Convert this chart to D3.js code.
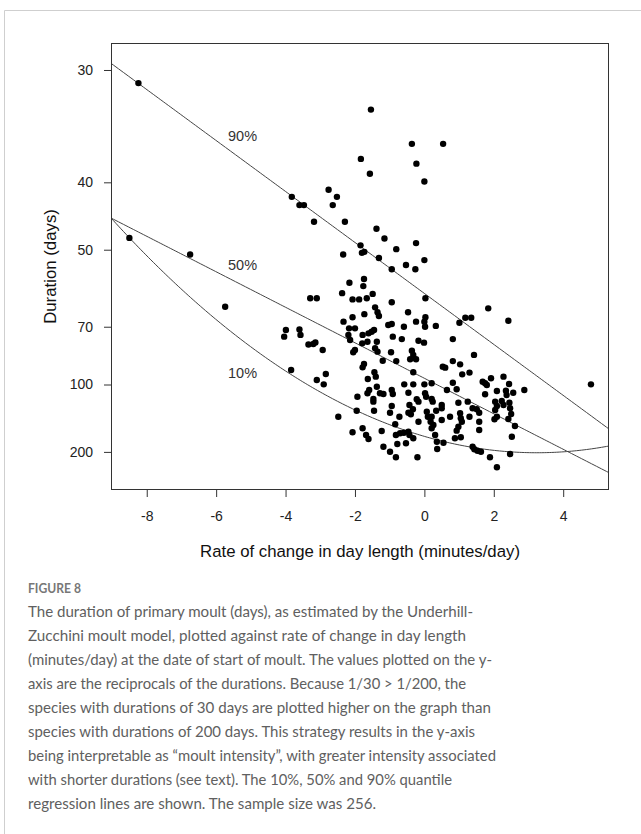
<!DOCTYPE html>
<html>
<head>
<meta charset="utf-8">
<script src="https://cdn.jsdelivr.net/npm/d3@7"></script>
<style>
  body { margin: 0; background: #fff; }
  svg { display: block; }
</style>
</head>
<body>
<svg id="fig" width="641" height="834"></svg>
<script>
// Rate of change in day length at start of moult (minutes/day), one per species
const rate = [
  -8.24, -8.50, -6.75, -5.74, -3.84, -3.10, -3.99, -4.04, -3.60, -3.57,
  -3.34, -3.20, -3.14, -3.82, -3.60, -3.47, -3.18, -2.76, -2.64, -2.52,
  -2.29, -3.29, -3.10, -1.54, -0.36, 0.54, -1.83, -0.23, -1.57, 0.00,
  -1.38, -1.15, -1.84, -2.34, -1.80, -1.73, -0.81, -0.24, -1.31, -0.53,
  -0.26, 0.00, -0.94, -1.74, -2.16, -1.76, -2.37, -1.49, -2.07, -1.88,
  -1.66, -0.94, 0.03, -1.42, -1.35, -1.31, -0.47, -2.07, -1.73, 0.03,
  -2.33, -2.17, -2.00, -1.04, -0.94, -0.59, -0.24, 0.00, 0.02, 0.33,
  -2.19, -1.78, -1.61, -1.52, -1.45, -2.14, -1.79, -1.64, -1.37, -0.91,
  -0.65, -0.17, -0.01, -2.93, -2.05, -2.00, -1.42, -1.35, -0.96, -0.36,
  -0.32, -0.41, -0.24, -1.20, -0.81, -1.74, -1.78, -1.44, -1.40, -2.84,
  -2.90, -1.63, -0.32, -0.58, -0.32, 0.00, 0.21, -1.37, -1.59, -1.64,
  -1.28, -1.18, -0.94, -0.91, -0.46, -0.22, -0.17, 0.02, 0.05, 0.21,
  0.24, -1.93, -1.47, -1.47, -0.43, -0.33, -0.46, -0.39, -0.94, -0.99,
  -1.45, -1.95, -2.48, -0.72, 0.10, 0.21, 0.34, 0.07, -0.84, -0.17,
  0.18, 0.26, 0.21, -1.78, -2.07, -1.68, -1.61, -1.23, -0.82, -0.70,
  -0.59, -0.46, -0.43, -0.78, -0.53, -0.32, 0.31, 0.36, -1.18, -0.99,
  -0.82, -0.20, 0.37, 1.01, 2.42, 0.82, 1.43, 0.53, 0.60, 0.82,
  1.03, 1.30, 1.09, 1.92, 1.68, 1.75, 1.80, 2.28, 2.44, 2.88,
  4.80, 0.82, 0.93, 0.65, 1.75, 2.09, 2.35, 2.37, 2.56, 1.25,
  0.98, 0.50, 0.50, 1.39, 1.51, 2.04, 2.09, 2.04, 2.23, 2.28,
  2.45, 2.47, 2.50, 1.58, 0.74, 1.03, 1.05, 1.08, 1.30, 2.02,
  2.09, 2.42, 0.50, 0.98, 0.93, 1.58, 1.58, 2.61, 2.52, 0.88,
  1.05, 0.55, 1.39, 1.44, 1.53, 1.63, 1.89, 2.09, 2.47, 1.84,
  1.18, 1.35
];

// Estimated duration of primary moult (days), same order as rate
const duration = [
  30.9, 47.9, 50.9, 63.4, 90.3, 96.8, 71.2, 73.8, 71.0, 73.1,
  77.1, 76.9, 76.2, 41.8, 42.9, 42.9, 45.3, 40.9, 42.9, 41.8,
  45.3, 61.0, 61.0, 32.9, 35.9, 35.9, 37.4, 37.9, 39.0, 39.9,
  46.4, 48.0, 49.2, 50.9, 50.6, 50.4, 49.9, 48.8, 51.6, 53.0,
  53.9, 52.0, 53.9, 56.1, 57.0, 57.8, 59.6, 59.8, 61.3, 61.3,
  61.0, 62.1, 61.0, 63.6, 65.1, 66.3, 65.1, 66.7, 65.7, 66.7,
  68.2, 70.6, 70.6, 69.4, 69.0, 70.0, 68.2, 68.2, 70.0, 69.7,
  73.1, 73.1, 72.5, 71.9, 71.2, 75.2, 76.6, 75.9, 75.9, 73.8,
  74.8, 75.5, 76.3, 79.6, 80.7, 79.6, 78.8, 80.4, 80.7, 80.0,
  82.0, 84.2, 84.2, 85.0, 85.2, 86.8, 88.7, 91.7, 94.5, 92.8,
  99.9, 96.1, 91.7, 99.9, 99.9, 99.9, 99.1, 101.7, 104.3, 107.0,
  107.0, 107.6, 104.3, 107.6, 106.5, 112.3, 114.6, 107.0, 110.0, 112.0,
  114.6, 110.0, 112.0, 114.6, 117.9, 122.5, 126.5, 128.4, 119.0, 126.5,
  124.1, 124.1, 131.4, 131.4, 131.4, 131.4, 124.1, 125.3, 141.9, 138.1,
  138.1, 142.9, 148.1, 148.1, 154.9, 159.9, 167.9, 152.7, 159.9, 156.7,
  155.7, 153.9, 159.9, 179.0, 177.4, 166.4, 159.9, 173.7, 185.7, 199.4,
  217.4, 217.4, 191.8, 68.6, 67.9, 74.8, 82.0, 88.3, 88.9, 85.2,
  87.0, 91.9, 93.0, 95.6, 98.0, 99.1, 100.4, 94.5, 99.6, 104.3,
  99.9, 98.7, 103.7, 104.3, 107.8, 105.1, 104.8, 108.4, 106.5, 114.6,
  115.6, 117.9, 121.4, 121.4, 122.5, 114.6, 119.0, 123.3, 113.9, 117.9,
  115.6, 121.4, 128.0, 126.5, 131.4, 127.2, 133.5, 138.1, 131.4, 134.8,
  131.4, 134.4, 135.8, 145.6, 152.1, 138.1, 150.9, 144.5, 163.2, 166.4,
  164.4, 176.0, 185.7, 192.6, 196.5, 199.4, 217.4, 259.3, 206.4, 63.9,
  66.9, 66.9
];

// Axis ticks
const xTicks = [-8, -6, -4, -2, 0, 2, 4];
const durationTicks = [30, 40, 50, 70, 100, 200];

// Quantile regression of moult intensity (1/duration) on rate:
// intensity = b0 + b1*rate + b2*rate^2
const quantileNames = ["10%", "50%", "90%"];
const quantileCoef = [
  [0.006152, -0.0007497, 0.0001157],
  [0.010462, -0.0013168, 0],
  [0.016757, -0.0018907, 0]
];
// Where each quantile name is written (rate, duration)
const labelRate = [-5.24, -5.24, -5.24];
const labelDuration = [91.8, 52.9, 35.2];

// Caption
const captionHead = "FIGURE 8";
const captionLines = [
  "The duration of primary moult (days), as estimated by the Underhill-",
  "Zucchini moult model, plotted against rate of change in day length",
  "(minutes/day) at the date of start of moult. The values plotted on the y-",
  "axis are the reciprocals of the durations. Because 1/30 > 1/200, the",
  "species with durations of 30 days are plotted higher on the graph than",
  "species with durations of 200 days. This strategy results in the y-axis",
  "being interpretable as \u201Cmoult intensity\u201D, with greater intensity associated",
  "with shorter durations (see text). The 10%, 50% and 90% quantile",
  "regression lines are shown. The sample size was 256."
];
const captionWidths = [445, 438, 464, 438, 463, 447, 468, 424, 348];

const svg = d3.select("#fig");
const plot = { left: 111, right: 609, top: 43, bottom: 490 };
const axisFont = "'Liberation Sans', Arial, sans-serif";

// Card outline
svg.append("path")
  .attr("d", "M4.5,834 V10.5 H641")
  .attr("fill", "none")
  .attr("stroke", "#cfcfcf")
  .attr("stroke-width", 1);

const x = d3.scaleLinear().domain([-9.03, 5.32]).range([plot.left, plot.right]);
// vertical axis is linear in 1/duration
const y = d3.scaleLinear().domain([0.002173, 0.035336]).range([plot.bottom, plot.top]);

const g = svg.append("g");

// Quantile regression curves, clipped to the plotting region
svg.append("clipPath").attr("id", "plotclip")
  .append("rect")
  .attr("x", plot.left).attr("y", plot.top)
  .attr("width", plot.right - plot.left).attr("height", plot.bottom - plot.top);

const rateGrid = d3.range(0, 201).map(i => x.domain()[0] + (x.domain()[1] - x.domain()[0]) * i / 200);
const curve = d3.line().x(r => x(r.r)).y(r => y(r.v));

quantileCoef.forEach((c, i) => {
  g.append("path")
    .datum(rateGrid.map(r => ({ r, v: c[0] + c[1] * r + c[2] * r * r })))
    .attr("d", curve)
    .attr("clip-path", "url(#plotclip)")
    .attr("fill", "none")
    .attr("stroke", "#444")
    .attr("stroke-width", 1);
  g.append("text")
    .attr("x", x(labelRate[i]))
    .attr("y", y(1 / labelDuration[i]))
    .attr("dy", "0.35em")
    .attr("text-anchor", "middle")
    .attr("font-family", axisFont)
    .attr("font-size", 14.5)
    .attr("fill", "#333")
    .text(quantileNames[i]);
});

// Species points
g.selectAll("circle.sp")
  .data(rate.map((r, i) => ({ r, d: duration[i] })))
  .join("circle")
  .attr("class", "sp")
  .attr("cx", d => x(d.r))
  .attr("cy", d => y(1 / d.d))
  .attr("r", 3.2)
  .attr("fill", "#000");

// Frame
g.append("rect")
  .attr("x", plot.left + 0.5).attr("y", plot.top + 0.5)
  .attr("width", plot.right - plot.left - 1).attr("height", plot.bottom - plot.top - 1)
  .attr("fill", "none").attr("stroke", "#333").attr("stroke-width", 1);

// Axes
const xAxis = g.append("g")
  .attr("transform", `translate(0,${plot.bottom})`)
  .call(d3.axisBottom(x).tickValues(xTicks).tickSize(7).tickPadding(14).tickFormat(d3.format("d")));
const yAxis = g.append("g")
  .attr("transform", `translate(${plot.left},0)`)
  .call(d3.axisLeft(y).tickValues(durationTicks.map(d => 1 / d)).tickSize(7).tickPadding(11)
    .tickFormat((v, i) => durationTicks[i]));

[xAxis, yAxis].forEach(a => {
  a.select(".domain").remove();
  a.selectAll(".tick line").attr("stroke", "#333");
  a.selectAll(".tick text")
    .attr("font-family", axisFont)
    .attr("font-size", 14)
    .attr("fill", "#222");
});
xAxis.selectAll(".tick text").text(d => d < 0 ? "-" + Math.abs(d) : d);

// Axis titles
g.append("text")
  .attr("x", (plot.left + plot.right) / 2)
  .attr("y", 557)
  .attr("text-anchor", "middle")
  .attr("font-family", axisFont)
  .attr("font-size", 16.8)
  .attr("fill", "#111")
  .text("Rate of change in day length (minutes/day)");
g.append("text")
  .attr("transform", `translate(56,${(plot.top + plot.bottom) / 2}) rotate(-90)`)
  .attr("text-anchor", "middle")
  .attr("font-family", axisFont)
  .attr("font-size", 16.8)
  .attr("fill", "#111")
  .text("Duration (days)");

// Caption block
const cap = svg.append("g").attr("font-family", "Lato, 'Open Sans', sans-serif");
cap.append("text")
  .attr("x", 28).attr("y", 593)
  .attr("font-size", 14).attr("font-weight", 700)
  .attr("fill", "#777")
  .attr("textLength", 53).attr("lengthAdjust", "spacingAndGlyphs")
  .text(captionHead);
cap.selectAll("text.line")
  .data(captionLines)
  .join("text")
  .attr("class", "line")
  .attr("x", 28)
  .attr("y", (d, i) => 617 + i * 24)
  .attr("font-size", 16)
  .attr("fill", "#606060")
  .attr("textLength", (d, i) => captionWidths[i])
  .attr("lengthAdjust", "spacingAndGlyphs")
  .text(d => d);
</script>
</body>
</html>
